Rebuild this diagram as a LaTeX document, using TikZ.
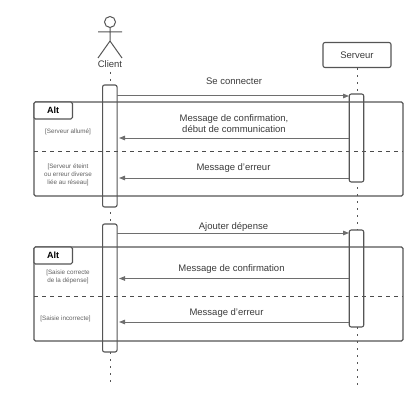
\documentclass[tikz,border=0pt]{standalone}
\usepackage{fontspec}
\setmainfont{Liberation Sans}
\usetikzlibrary{arrows.meta}
\definecolor{ln}{HTML}{555555}
\definecolor{tx}{HTML}{3A3A3A}
\tikzset{
  x=1pt,y=-1pt,
  life/.style={draw=ln,line width=1pt,dash pattern=on 2pt off 5pt},
  bar/.style={draw=ln,line width=1.1pt,rounded corners=2pt,fill=none},
  frame/.style={draw=ln,line width=1.1pt,rounded corners=1.5pt},
  msg/.style={draw=ln!85,line width=1pt,-{Triangle[length=6pt,width=4.5pt]}},
  sep/.style={draw=black!70,line width=.8pt,dash pattern=on 3.5pt off 4.5pt},
  big/.style={text=tx,font=\fontsize{9.5}{11}\selectfont,align=center,inner sep=0pt},
  small/.style={text=tx!80,font=\fontsize{6.3}{8}\selectfont,align=center,inner sep=0pt},
  tab/.style={draw=ln,line width=1.1pt,rounded corners=1.5pt,fill=white},
  tabt/.style={font=\bfseries\fontsize{9}{10}\selectfont,inner sep=0pt},
}
\begin{document}
\begin{tikzpicture}
\useasboundingbox (0,0) rectangle (420,401);
% actor
\draw[ln,line width=1pt] (110,22) circle (5.5);
\draw[ln,line width=1pt] (110,27.5) -- (110,41) (98,32) -- (122,32) (98,58) -- (110,41) -- (122,58);
\node[big] (client) at (110,64) {Client};
\node[draw=ln,line width=1.1pt,rounded corners=2pt,minimum width=68pt,minimum height=25pt,inner sep=0pt,text=tx,font=\fontsize{9.5}{11}\selectfont] (srv) at (357,55) {Serveur};
% lifelines
\coordinate (cb) at (110,72);
\coordinate (ce) at (110,385);
\coordinate (se) at (357,385);
\draw[life] (cb) -- (ce);
\draw[life] (srv.south) -- (se);
% activation bars: white ground hiding the lifelines
\node[fill=white,minimum width=14.5pt,minimum height=122pt,inner sep=0pt] (a1) at (109.8,146) {};
\node[fill=white,minimum width=14.5pt,minimum height=88pt,inner sep=0pt] (b1) at (356.5,138) {};
\node[fill=white,minimum width=14.5pt,minimum height=128pt,inner sep=0pt] (a2) at (109.8,288) {};
\node[fill=white,minimum width=14.5pt,minimum height=97pt,inner sep=0pt] (b2) at (356.5,278.5) {};
% frames
\draw[frame] (34,102) rectangle (403,196);
\draw[frame] (34,247) rectangle (403,341);
\coordinate (d1a) at (34,151); \coordinate (d1b) at (403,151);
\coordinate (d2a) at (34,296); \coordinate (d2b) at (403,296);
\draw[sep] (d1a) -- (d1b);
\draw[sep] (d2a) -- (d2b);
\node[tab,minimum width=38.5pt,minimum height=17pt,inner sep=0pt] (t1) at (53.2,110.5) {};
\node[tabt] at (53.2,110) {Alt};
\node[tab,minimum width=38.5pt,minimum height=17pt,inner sep=0pt] (t2) at (53.2,255.5) {};
\node[tabt] at (53.2,255) {Alt};
% activation bar outlines
\node[bar,minimum width=14.5pt,minimum height=122pt,inner sep=0pt] at (a1) {};
\node[bar,minimum width=14.5pt,minimum height=88pt,inner sep=0pt] at (b1) {};
\node[bar,minimum width=14.5pt,minimum height=128pt,inner sep=0pt] at (a2) {};
\node[bar,minimum width=14.5pt,minimum height=97pt,inner sep=0pt] at (b2) {};
% messages
\draw[msg] (a1.east |- 0,96) -- (b1.west |- 0,96);
\draw[msg] (b1.west |- 0,138) -- (119,138);
\draw[msg] (b1.west |- 0,178) -- (119,178);
\draw[msg] (a2.east |- 0,233) -- (b2.west |- 0,233);
\draw[msg] (b2.west |- 0,278.5) -- (119,278.5);
\draw[msg] (b2.west |- 0,322) -- (119,322);
% labels
\node[big] at (234,81) {Se connecter};
\node[big] at (234,124) {Message de confirmation,\\début de communication};
\node[big] at (233.5,168) {Message d'erreur};
\node[big] at (233.5,226.5) {Ajouter dépense};
\node[big] at (231.5,269.5) {Message de confirmation};
\node[big] at (226.5,313.5) {Message d'erreur};
\node[small] at (68,131.5) {[Serveur allumé]};
\node[small] at (68,174.5) {[Serveur éteint\\ou erreur diverse\\liée au réseau]};
\node[small] at (68,277) {[Saisie correcte\\de la dépense]};
\node[small] at (65.5,318.5) {[Saisie incorrecte]};
\end{tikzpicture}
\end{document}
